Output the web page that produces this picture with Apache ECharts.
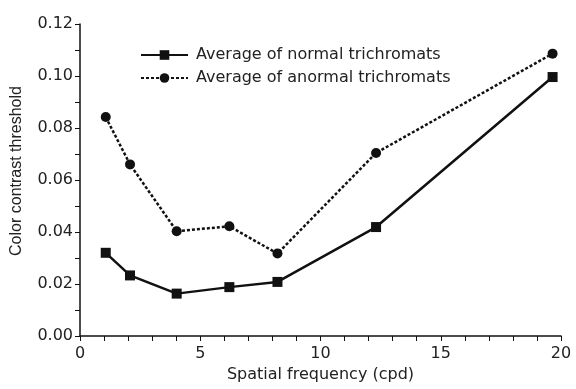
<!DOCTYPE html>
<html>
<head>
<meta charset="utf-8">
<script src="https://cdn.jsdelivr.net/npm/echarts@6/dist/echarts.min.js"></script>
<style>
  html, body { margin: 0; padding: 0; background: #fff; }
  #chart { width: 576px; height: 389px; }
</style>
</head>
<body>
<div id="chart"></div>
<script>
// spatial frequency (cpd) at each measurement
const freqs = [1.07, 2.08, 4.02, 6.21, 8.21, 12.31, 19.65];
const normalAvg = [0.032, 0.0233, 0.0163, 0.0188, 0.0208, 0.0419, 0.0996];
const anormalAvg = [0.0842, 0.066, 0.0403, 0.0422, 0.0317, 0.0704, 0.1086];
const seriesNames = ['Average of normal trichromats', 'Average of anormal trichromats'];

const pairs = (xs, ys) => xs.map((x, i) => [x, ys[i]]);

const chart = echarts.init(document.getElementById('chart'));
const ink = '#111';
// the source figure is a bit stretched sideways, DejaVu's wider glyphs match it better
const wideFont = 'DejaVu Sans, sans-serif';
const font = 'Liberation Sans, Arial, sans-serif';

const option = {
  animation: false,
  textStyle: { fontFamily: wideFont },
  grid: { left: 80, right: 15, top: 24, bottom: 53 },
  legend: {
    orient: 'vertical',
    left: 135,
    top: 42,
    itemWidth: 47,
    itemHeight: 12,
    itemGap: 7,
    data: seriesNames,
    textStyle: { fontSize: 16, color: '#222', fontFamily: wideFont, padding: [0, 0, 0, 3] }
  },
  xAxis: {
    type: 'value',
    min: 0, max: 20, interval: 5,
    name: 'Spatial frequency (cpd)',
    nameLocation: 'middle',
    nameGap: 27,
    nameTextStyle: { fontSize: 16, color: '#222', fontFamily: wideFont },
    axisLine: { lineStyle: { color: ink, width: 1.5 } },
    axisTick: { show: true, length: 5, lineStyle: { color: ink } },
    minorTick: { show: true, splitNumber: 5, length: 5, lineStyle: { color: ink } },
    axisLabel: { fontSize: 16, color: '#222', margin: 10, fontFamily: wideFont },
    splitLine: { show: false }
  },
  yAxis: {
    type: 'value',
    min: 0, max: 0.12, interval: 0.02,
    name: 'Color contrast threshold',
    nameLocation: 'middle',
    nameGap: 55,
    nameTextStyle: { fontSize: 16, color: '#222', fontFamily: font, padding: [0, 0, 0, 18] },
    axisLine: { show: true, lineStyle: { color: ink, width: 1.5 } },
    axisTick: { show: true, length: 5, lineStyle: { color: ink } },
    minorTick: { show: true, splitNumber: 2, length: 5, lineStyle: { color: ink } },
    axisLabel: { fontSize: 16, color: '#222', margin: 7, fontFamily: wideFont, formatter: v => v.toFixed(2) },
    splitLine: { show: false }
  },
  series: [
    {
      name: seriesNames[0],
      type: 'line',
      data: pairs(freqs, normalAvg),
      symbol: 'rect',
      symbolSize: 10,
      color: ink,
      itemStyle: { color: ink },
      lineStyle: { color: ink, width: 2.5 }
    },
    {
      name: seriesNames[1],
      type: 'line',
      data: pairs(freqs, anormalAvg),
      symbol: 'circle',
      symbolSize: 10,
      color: ink,
      itemStyle: { color: ink },
      lineStyle: { color: ink, width: 2.5, type: [3, 2] }
    }
  ]
};

chart.setOption(option);
</script>
</body>
</html>
